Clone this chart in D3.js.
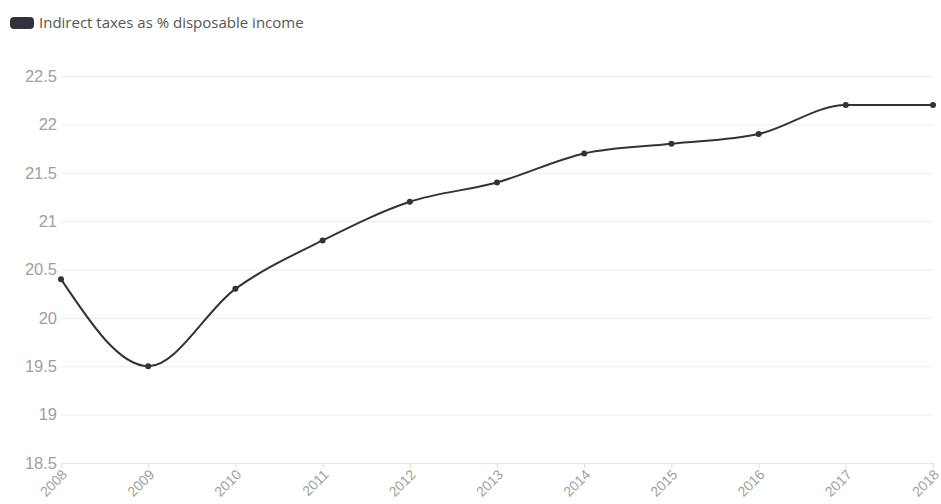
<!DOCTYPE html>
<html>
<head>
<meta charset="utf-8">
<script src="https://cdn.jsdelivr.net/npm/d3@7"></script>
<style>
  html, body { margin: 0; padding: 0; background: #fff; }
  svg { display: block; font-family: "Open Sans", sans-serif; }
</style>
</head>
<body>
<div id="chart"></div>
<script>
// Data
const years = [2008, 2009, 2010, 2011, 2012, 2013, 2014, 2015, 2016, 2017, 2018]
const indirectTaxes = [20.4, 19.5, 20.3, 20.8, 21.2, 21.4, 21.7, 21.8, 21.9, 22.2, 22.2]
const yTicks = [18.5, 19, 19.5, 20, 20.5, 21, 21.5, 22, 22.5]
const seriesName = 'Indirect taxes as % disposable income'

const width = 941
const height = 504
const margin = { top: 76, right: 8, bottom: 41, left: 61 }
const lineColor = '#33313b'

const svg = d3.select('#chart').append('svg')
    .attr('width', width)
    .attr('height', height)

// Scales
const x = d3.scaleLinear()
    .domain(d3.extent(years))
    .range([margin.left, width - margin.right])
const y = d3.scaleLinear()
    .domain([18.5, 22.5])
    .range([height - margin.bottom, margin.top])

// Grid + y labels
const yAxis = svg.append('g')
    .attr('transform', `translate(${margin.left}, 0)`)
    .call(d3.axisLeft(y).tickValues(yTicks).tickSize(-(width - margin.left - margin.right)).tickPadding(4).tickFormat(d3.format('')))
yAxis.select('.domain').remove()
yAxis.selectAll('.tick line').attr('stroke', '#ececec')
yAxis.selectAll('.tick text')
    .attr('fill', '#a0a0a0')
    .style('font-size', '16.5px')
    .style('font-weight', 300)

// X axis
const xAxis = svg.append('g')
    .attr('transform', `translate(0, ${height - margin.bottom})`)
    .call(d3.axisBottom(x).tickValues(years).tickSize(5).tickFormat(d3.format('d')))
xAxis.select('.domain').attr('stroke', '#e6e6e6')
xAxis.selectAll('.tick line').attr('stroke', '#dcdcdc')
xAxis.selectAll('.tick text')
    .attr('fill', '#a0a0a0')
    .style('font-size', '14px')
    .style('font-weight', 300)
    .style('text-anchor', 'end')
    .attr('dy', '0.35em')
    .attr('y', 0)
    .attr('transform', 'translate(3, 9) rotate(-45)')

// Line
const line = d3.line()
    .x((d, i) => x(years[i]))
    .y(d => y(d))
    .curve(d3.curveMonotoneX)

svg.append('path')
    .datum(indirectTaxes)
    .attr('fill', 'none')
    .attr('stroke', lineColor)
    .attr('stroke-width', 2)
    .attr('d', line)

svg.append('g')
    .selectAll('circle')
    .data(indirectTaxes)
    .join('circle')
    .attr('cx', (d, i) => x(years[i]))
    .attr('cy', d => y(d))
    .attr('r', 3)
    .attr('fill', lineColor)

// Legend
const legend = svg.append('g').attr('transform', 'translate(10, 17)')
legend.append('rect')
    .attr('width', 24)
    .attr('height', 12)
    .attr('rx', 4)
    .attr('fill', lineColor)
legend.append('text')
    .attr('x', 29)
    .attr('y', 6)
    .attr('dy', '0.35em')
    .attr('fill', '#555')
    .style('font-size', '15px')
    .text(seriesName)
</script>
</body>
</html>
